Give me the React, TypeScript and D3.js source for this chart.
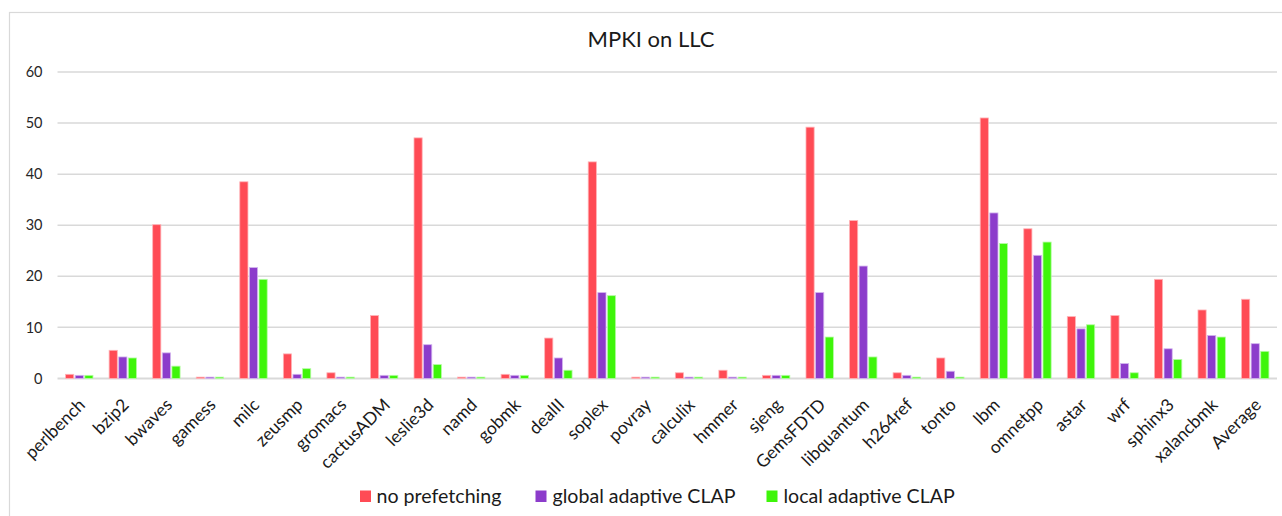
import React from "react";
import * as d3 from "d3";

const categories = [
  "perlbench", "bzip2", "bwaves", "gamess", "milc", "zeusmp", "gromacs", "cactusADM",
  "leslie3d", "namd", "gobmk", "dealII", "soplex", "povray", "calculix", "hmmer",
  "sjeng", "GemsFDTD", "libquantum", "h264ref", "tonto", "lbm", "omnetpp", "astar",
  "wrf", "sphinx3", "xalancbmk", "Average",
];

const noPrefetching = [
  0.8, 5.5, 30.1, 0.25, 38.5, 4.8, 1.1, 12.3,
  47.1, 0.25, 0.8, 7.9, 42.4, 0.25, 1.1, 1.6,
  0.6, 49.2, 30.9, 1.1, 4.0, 51.0, 29.3, 12.1,
  12.3, 19.4, 13.4, 15.5,
];

const globalAdaptive = [
  0.6, 4.2, 5.0, 0.25, 21.7, 0.8, 0.25, 0.6,
  6.6, 0.25, 0.6, 4.0, 16.8, 0.25, 0.25, 0.25,
  0.6, 16.8, 22.0, 0.6, 1.4, 32.4, 24.1, 9.7,
  2.9, 5.8, 8.4, 6.8,
];

const localAdaptive = [
  0.6, 4.0, 2.4, 0.25, 19.4, 1.9, 0.25, 0.6,
  2.7, 0.25, 0.6, 1.6, 16.2, 0.25, 0.25, 0.25,
  0.6, 8.1, 4.2, 0.25, 0.25, 26.4, 26.7, 10.5,
  1.1, 3.7, 8.1, 5.3,
];

const seriesNames = ["no prefetching", "global adaptive CLAP", "local adaptive CLAP"];
const seriesColors = ["#FF4B55", "#8C3CCB", "#3EF50A"];
const seriesStrokes = ["#FFB3B7", "#D2B3EE", "#B5FBA3"];
const yTicks = [0, 10, 20, 30, 40, 50, 60];

const W = 1282;
const H = 516;
const FONT = "Lato, 'Noto Sans', sans-serif";

export default function App() {
  const x0 = 57.5;
  const x1 = 1277;
  const yBase = 378.4;
  const yTop = 72;

  const x = d3.scaleBand<string>().domain(categories).range([x0, x1]).padding(0);
  const y = d3.scaleLinear().domain([0, 60]).range([yBase, yTop]);
  const inner = d3
    .scaleBand<string>()
    .domain(seriesNames)
    .range([-13.7, 13.7])
    .paddingInner(0.15);

  const allSeries = [noPrefetching, globalAdaptive, localAdaptive];

  const legendItems = [
    { sx: 360, tx: 376.5 },
    { sx: 535.5, tx: 552.5 },
    { sx: 766.5, tx: 783.5 },
  ];

  return (
    <svg
      width={W}
      height={H}
      style={{ position: "absolute", left: 0, top: 0, background: "#fff" }}
      fontFamily={FONT}
    >
      <rect x={0} y={0} width={W} height={H} fill="#fff" />
      {/* chart frame */}
      <rect x={9.5} y={12.5} width={1300} height={540} fill="none" stroke="#D9D9D9" strokeWidth={1.2} />

      {/* title */}
      <text x={651} y={47} textAnchor="middle" fontSize={22} fill="#1a1a1a">
        MPKI on LLC
      </text>

      {/* gridlines */}
      {yTicks.map((t) => (
        <g key={t}>
          <line
            x1={x0}
            x2={x1}
            y1={y(t)}
            y2={y(t)}
            stroke="#D9D9D9"
            strokeWidth={t === 0 ? 2 : 1.5}
          />
          <text x={42.5} y={y(t)} dy="0.36em" textAnchor="end" fontSize={14.5} fill="#262626">
            {t}
          </text>
        </g>
      ))}

      {/* bars */}
      {categories.map((c, i) => {
        const cx = (x(c) as number) + x.bandwidth() / 2;
        return (
          <g key={c}>
            {allSeries.map((s, k) => (
              <rect
                key={k}
                x={cx + (inner(seriesNames[k]) as number)}
                y={y(s[i])}
                width={inner.bandwidth()}
                height={yBase - y(s[i])}
                fill={seriesColors[k]}
                stroke={seriesStrokes[k]}
                strokeWidth={0.8}
              />
            ))}
          </g>
        );
      })}

      {/* x labels */}
      {categories.map((c) => {
        const cx = (x(c) as number) + x.bandwidth() / 2;
        return (
          <text
            key={c}
            transform={`translate(${cx + 7},${406}) rotate(-45)`}
            textAnchor="end"
            fontSize={17.5}
            fill="#1a1a1a"
          >
            {c}
          </text>
        );
      })}

      {/* legend */}
      {legendItems.map((l, k) => (
        <g key={k}>
          <rect x={l.sx} y={490.5} width={11} height={11.5} fill={seriesColors[k]} />
          <text x={l.tx} y={503} fontSize={19.6} fill="#1a1a1a">
            {seriesNames[k]}
          </text>
        </g>
      ))}
    </svg>
  );
}
